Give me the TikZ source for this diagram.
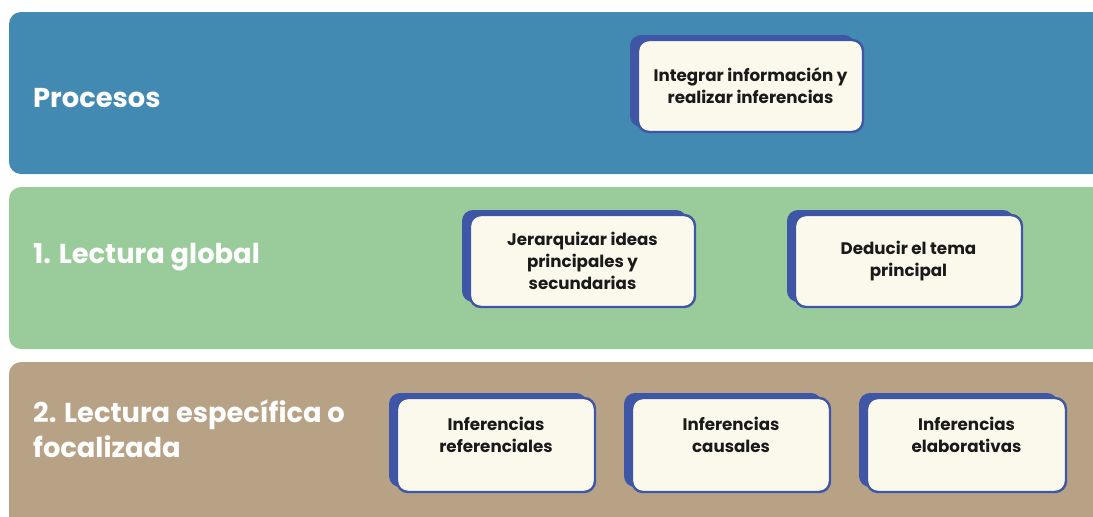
\documentclass[tikz,border=0pt]{standalone}
\usepackage{fontspec}
\setmainfont{Poppins}
\usetikzlibrary{shadows}
\definecolor{bandblue}{HTML}{428AB1}
\definecolor{bandgreen}{HTML}{99CC9A}
\definecolor{bandtan}{HTML}{B8A285}
\definecolor{cardblue}{HTML}{3F56A6}
\definecolor{cream}{HTML}{FBF9EC}
\definecolor{ink}{HTML}{1A1A1A}
\tikzset{
  band/.style={rounded corners=12pt},
  bandtitle/.style={anchor=west, text=white, font=\fontsize{27.3}{35}\selectfont\bfseries, align=left, inner sep=0pt},
  card/.style={draw=cardblue, line width=2.4pt, fill=cream, rounded corners=11pt,
    drop shadow={shadow xshift=-8pt, shadow yshift=5pt, fill=cardblue, opacity=1},
    text=ink, align=center, inner sep=0pt,
    font=\fontsize{16.7}{22}\selectfont\bfseries},
}
\begin{document}
\begin{tikzpicture}[x=1pt,y=-1pt]
\useasboundingbox (0,0) rectangle (1093,517);
\clip (0,0) rectangle (1093,517);
\fill[band, bandblue] (9,12) rectangle (1120,174);
\fill[band, bandgreen] (9,187) rectangle (1120,349);
\fill[band, bandtan] (9,362) rectangle (1120,530);

\node[bandtitle] (t1) at (33,98) {Procesos};
\node[bandtitle] (t2) at (33,257) {1. Lectura global};
\node[bandtitle] (t3) at (33,429) {2. Lectura específica o\\focalizada};

\node[card, minimum width=225pt, minimum height=92pt] (b1) at (750.5,86) {Integrar información y\\realizar inferencias};
\node[card, minimum width=225pt, minimum height=92pt] (b2) at (582.5,261) {Jerarquizar ideas\\principales y\\secundarias};
\node[card, minimum width=227pt, minimum height=92pt] (b3) at (908.5,261) {Deducir el tema\\principal};
\node[card, minimum width=198pt, minimum height=94pt, text depth=20pt] (b4) at (496,445) {Inferencias\\referenciales};
\node[card, minimum width=198pt, minimum height=94pt, text depth=20pt] (b5) at (731,445) {Inferencias\\causales};
\node[card, minimum width=199pt, minimum height=94pt, text depth=20pt] (b6) at (966.5,445) {Inferencias\\elaborativas};
\end{tikzpicture}
\end{document}
